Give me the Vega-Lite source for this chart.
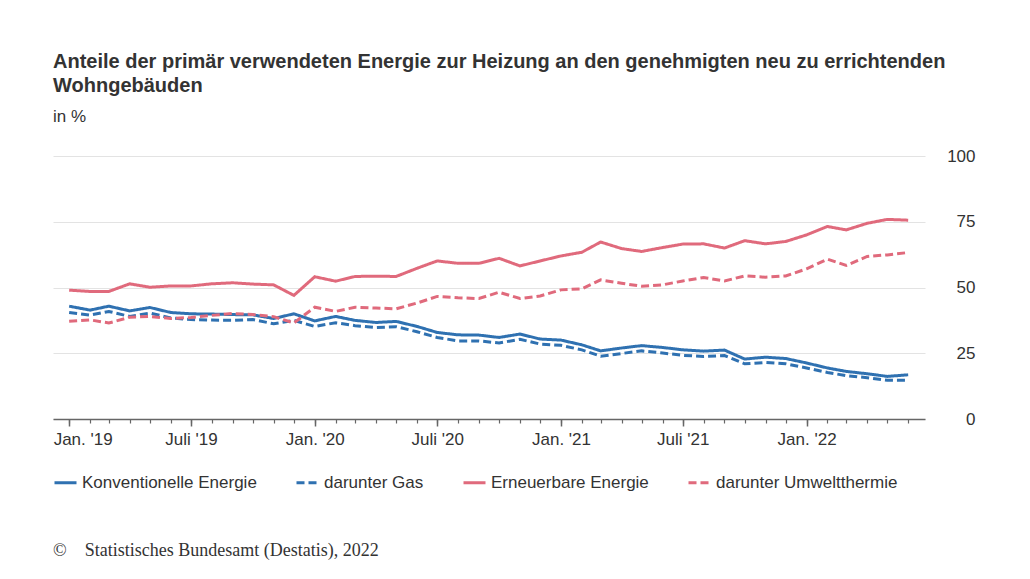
{
  "$schema": "https://vega.github.io/schema/vega-lite/v6.json",
  "width": 872,
  "height": 263,
  "padding": {"left": 53, "top": 52, "right": 10, "bottom": 10},
  "autosize": {"type": "pad"},
  "background": "white",
  "title": {
    "text": ["Anteile der primär verwendeten Energie zur Heizung an den genehmigten neu zu errichtenden", "Wohngebäuden"],
    "subtitle": "in %",
    "anchor": "start",
    "frame": "group",
    "font": "Liberation Sans",
    "fontSize": 20,
    "fontWeight": "bold",
    "color": "#333333",
    "lineHeight": 24,
    "subtitleFont": "Liberation Sans",
    "subtitleFontSize": 17,
    "subtitleColor": "#333333",
    "subtitlePadding": 13,
    "offset": 22
  },
  "data": {
    "values": [
      {"date": "2019-01-01", "series": "Konventionelle Energie", "value": 42.9},
      {"date": "2019-02-01", "series": "Konventionelle Energie", "value": 41.4},
      {"date": "2019-03-01", "series": "Konventionelle Energie", "value": 42.9},
      {"date": "2019-04-01", "series": "Konventionelle Energie", "value": 41.1},
      {"date": "2019-05-01", "series": "Konventionelle Energie", "value": 42.4},
      {"date": "2019-06-01", "series": "Konventionelle Energie", "value": 40.5},
      {"date": "2019-07-01", "series": "Konventionelle Energie", "value": 40.0},
      {"date": "2019-08-01", "series": "Konventionelle Energie", "value": 39.9},
      {"date": "2019-09-01", "series": "Konventionelle Energie", "value": 39.7},
      {"date": "2019-10-01", "series": "Konventionelle Energie", "value": 39.6},
      {"date": "2019-11-01", "series": "Konventionelle Energie", "value": 38.2},
      {"date": "2019-12-01", "series": "Konventionelle Energie", "value": 40.0},
      {"date": "2020-01-01", "series": "Konventionelle Energie", "value": 37.3},
      {"date": "2020-02-01", "series": "Konventionelle Energie", "value": 39.0},
      {"date": "2020-03-01", "series": "Konventionelle Energie", "value": 37.5},
      {"date": "2020-04-01", "series": "Konventionelle Energie", "value": 36.7},
      {"date": "2020-05-01", "series": "Konventionelle Energie", "value": 37.1},
      {"date": "2020-06-01", "series": "Konventionelle Energie", "value": 35.2},
      {"date": "2020-07-01", "series": "Konventionelle Energie", "value": 32.9},
      {"date": "2020-08-01", "series": "Konventionelle Energie", "value": 32.0},
      {"date": "2020-09-01", "series": "Konventionelle Energie", "value": 31.9},
      {"date": "2020-10-01", "series": "Konventionelle Energie", "value": 31.0},
      {"date": "2020-11-01", "series": "Konventionelle Energie", "value": 32.3},
      {"date": "2020-12-01", "series": "Konventionelle Energie", "value": 30.4},
      {"date": "2021-01-01", "series": "Konventionelle Energie", "value": 30.0},
      {"date": "2021-02-01", "series": "Konventionelle Energie", "value": 28.2},
      {"date": "2021-03-01", "series": "Konventionelle Energie", "value": 25.9},
      {"date": "2021-04-01", "series": "Konventionelle Energie", "value": 27.0},
      {"date": "2021-05-01", "series": "Konventionelle Energie", "value": 27.9},
      {"date": "2021-06-01", "series": "Konventionelle Energie", "value": 27.2},
      {"date": "2021-07-01", "series": "Konventionelle Energie", "value": 26.3},
      {"date": "2021-08-01", "series": "Konventionelle Energie", "value": 25.8},
      {"date": "2021-09-01", "series": "Konventionelle Energie", "value": 26.2},
      {"date": "2021-10-01", "series": "Konventionelle Energie", "value": 22.8},
      {"date": "2021-11-01", "series": "Konventionelle Energie", "value": 23.5},
      {"date": "2021-12-01", "series": "Konventionelle Energie", "value": 23.0},
      {"date": "2022-01-01", "series": "Konventionelle Energie", "value": 21.3},
      {"date": "2022-02-01", "series": "Konventionelle Energie", "value": 19.4},
      {"date": "2022-03-01", "series": "Konventionelle Energie", "value": 18.1},
      {"date": "2022-04-01", "series": "Konventionelle Energie", "value": 17.2},
      {"date": "2022-05-01", "series": "Konventionelle Energie", "value": 16.2},
      {"date": "2022-06-01", "series": "Konventionelle Energie", "value": 16.8},
      {"date": "2019-01-01", "series": "darunter Gas", "value": 40.5},
      {"date": "2019-02-01", "series": "darunter Gas", "value": 39.5},
      {"date": "2019-03-01", "series": "darunter Gas", "value": 40.9},
      {"date": "2019-04-01", "series": "darunter Gas", "value": 39.0},
      {"date": "2019-05-01", "series": "darunter Gas", "value": 40.3},
      {"date": "2019-06-01", "series": "darunter Gas", "value": 38.4},
      {"date": "2019-07-01", "series": "darunter Gas", "value": 37.8},
      {"date": "2019-08-01", "series": "darunter Gas", "value": 37.6},
      {"date": "2019-09-01", "series": "darunter Gas", "value": 37.5},
      {"date": "2019-10-01", "series": "darunter Gas", "value": 37.8},
      {"date": "2019-11-01", "series": "darunter Gas", "value": 36.2},
      {"date": "2019-12-01", "series": "darunter Gas", "value": 37.5},
      {"date": "2020-01-01", "series": "darunter Gas", "value": 35.2},
      {"date": "2020-02-01", "series": "darunter Gas", "value": 36.6},
      {"date": "2020-03-01", "series": "darunter Gas", "value": 35.5},
      {"date": "2020-04-01", "series": "darunter Gas", "value": 34.8},
      {"date": "2020-05-01", "series": "darunter Gas", "value": 35.1},
      {"date": "2020-06-01", "series": "darunter Gas", "value": 33.2},
      {"date": "2020-07-01", "series": "darunter Gas", "value": 31.0},
      {"date": "2020-08-01", "series": "darunter Gas", "value": 29.7},
      {"date": "2020-09-01", "series": "darunter Gas", "value": 29.7},
      {"date": "2020-10-01", "series": "darunter Gas", "value": 28.9},
      {"date": "2020-11-01", "series": "darunter Gas", "value": 30.3},
      {"date": "2020-12-01", "series": "darunter Gas", "value": 28.5},
      {"date": "2021-01-01", "series": "darunter Gas", "value": 28.0},
      {"date": "2021-02-01", "series": "darunter Gas", "value": 26.3},
      {"date": "2021-03-01", "series": "darunter Gas", "value": 23.9},
      {"date": "2021-04-01", "series": "darunter Gas", "value": 24.9},
      {"date": "2021-05-01", "series": "darunter Gas", "value": 25.9},
      {"date": "2021-06-01", "series": "darunter Gas", "value": 25.1},
      {"date": "2021-07-01", "series": "darunter Gas", "value": 24.2},
      {"date": "2021-08-01", "series": "darunter Gas", "value": 23.8},
      {"date": "2021-09-01", "series": "darunter Gas", "value": 24.1},
      {"date": "2021-10-01", "series": "darunter Gas", "value": 21.0},
      {"date": "2021-11-01", "series": "darunter Gas", "value": 21.5},
      {"date": "2021-12-01", "series": "darunter Gas", "value": 21.0},
      {"date": "2022-01-01", "series": "darunter Gas", "value": 19.4},
      {"date": "2022-02-01", "series": "darunter Gas", "value": 17.7},
      {"date": "2022-03-01", "series": "darunter Gas", "value": 16.5},
      {"date": "2022-04-01", "series": "darunter Gas", "value": 15.7},
      {"date": "2022-05-01", "series": "darunter Gas", "value": 14.7},
      {"date": "2022-06-01", "series": "darunter Gas", "value": 14.7},
      {"date": "2019-01-01", "series": "Erneuerbare Energie", "value": 49.0},
      {"date": "2019-02-01", "series": "Erneuerbare Energie", "value": 48.5},
      {"date": "2019-03-01", "series": "Erneuerbare Energie", "value": 48.5},
      {"date": "2019-04-01", "series": "Erneuerbare Energie", "value": 51.4},
      {"date": "2019-05-01", "series": "Erneuerbare Energie", "value": 50.1},
      {"date": "2019-06-01", "series": "Erneuerbare Energie", "value": 50.6},
      {"date": "2019-07-01", "series": "Erneuerbare Energie", "value": 50.6},
      {"date": "2019-08-01", "series": "Erneuerbare Energie", "value": 51.4},
      {"date": "2019-09-01", "series": "Erneuerbare Energie", "value": 51.8},
      {"date": "2019-10-01", "series": "Erneuerbare Energie", "value": 51.3},
      {"date": "2019-11-01", "series": "Erneuerbare Energie", "value": 51.0},
      {"date": "2019-12-01", "series": "Erneuerbare Energie", "value": 47.0},
      {"date": "2020-01-01", "series": "Erneuerbare Energie", "value": 54.1},
      {"date": "2020-02-01", "series": "Erneuerbare Energie", "value": 52.4},
      {"date": "2020-03-01", "series": "Erneuerbare Energie", "value": 54.2},
      {"date": "2020-04-01", "series": "Erneuerbare Energie", "value": 54.3},
      {"date": "2020-05-01", "series": "Erneuerbare Energie", "value": 54.2},
      {"date": "2020-06-01", "series": "Erneuerbare Energie", "value": 57.3},
      {"date": "2020-07-01", "series": "Erneuerbare Energie", "value": 60.1},
      {"date": "2020-08-01", "series": "Erneuerbare Energie", "value": 59.2},
      {"date": "2020-09-01", "series": "Erneuerbare Energie", "value": 59.2},
      {"date": "2020-10-01", "series": "Erneuerbare Energie", "value": 61.1},
      {"date": "2020-11-01", "series": "Erneuerbare Energie", "value": 58.2},
      {"date": "2020-12-01", "series": "Erneuerbare Energie", "value": 60.1},
      {"date": "2021-01-01", "series": "Erneuerbare Energie", "value": 62.0},
      {"date": "2021-02-01", "series": "Erneuerbare Energie", "value": 63.4},
      {"date": "2021-03-01", "series": "Erneuerbare Energie", "value": 67.3},
      {"date": "2021-04-01", "series": "Erneuerbare Energie", "value": 64.8},
      {"date": "2021-05-01", "series": "Erneuerbare Energie", "value": 63.7},
      {"date": "2021-06-01", "series": "Erneuerbare Energie", "value": 65.2},
      {"date": "2021-07-01", "series": "Erneuerbare Energie", "value": 66.5},
      {"date": "2021-08-01", "series": "Erneuerbare Energie", "value": 66.6},
      {"date": "2021-09-01", "series": "Erneuerbare Energie", "value": 65.0},
      {"date": "2021-10-01", "series": "Erneuerbare Energie", "value": 67.8},
      {"date": "2021-11-01", "series": "Erneuerbare Energie", "value": 66.6},
      {"date": "2021-12-01", "series": "Erneuerbare Energie", "value": 67.5},
      {"date": "2022-01-01", "series": "Erneuerbare Energie", "value": 70.0},
      {"date": "2022-02-01", "series": "Erneuerbare Energie", "value": 73.2},
      {"date": "2022-03-01", "series": "Erneuerbare Energie", "value": 71.9},
      {"date": "2022-04-01", "series": "Erneuerbare Energie", "value": 74.4},
      {"date": "2022-05-01", "series": "Erneuerbare Energie", "value": 75.9},
      {"date": "2022-06-01", "series": "Erneuerbare Energie", "value": 75.6},
      {"date": "2019-01-01", "series": "darunter Umweltthermie", "value": 37.2},
      {"date": "2019-02-01", "series": "darunter Umweltthermie", "value": 37.7},
      {"date": "2019-03-01", "series": "darunter Umweltthermie", "value": 36.5},
      {"date": "2019-04-01", "series": "darunter Umweltthermie", "value": 38.7},
      {"date": "2019-05-01", "series": "darunter Umweltthermie", "value": 39.0},
      {"date": "2019-06-01", "series": "darunter Umweltthermie", "value": 38.2},
      {"date": "2019-07-01", "series": "darunter Umweltthermie", "value": 38.6},
      {"date": "2019-08-01", "series": "darunter Umweltthermie", "value": 39.4},
      {"date": "2019-09-01", "series": "darunter Umweltthermie", "value": 40.1},
      {"date": "2019-10-01", "series": "darunter Umweltthermie", "value": 39.7},
      {"date": "2019-11-01", "series": "darunter Umweltthermie", "value": 38.9},
      {"date": "2019-12-01", "series": "darunter Umweltthermie", "value": 36.5},
      {"date": "2020-01-01", "series": "darunter Umweltthermie", "value": 42.5},
      {"date": "2020-02-01", "series": "darunter Umweltthermie", "value": 40.9},
      {"date": "2020-03-01", "series": "darunter Umweltthermie", "value": 42.5},
      {"date": "2020-04-01", "series": "darunter Umweltthermie", "value": 42.2},
      {"date": "2020-05-01", "series": "darunter Umweltthermie", "value": 41.9},
      {"date": "2020-06-01", "series": "darunter Umweltthermie", "value": 44.1},
      {"date": "2020-07-01", "series": "darunter Umweltthermie", "value": 46.6},
      {"date": "2020-08-01", "series": "darunter Umweltthermie", "value": 46.1},
      {"date": "2020-09-01", "series": "darunter Umweltthermie", "value": 45.8},
      {"date": "2020-10-01", "series": "darunter Umweltthermie", "value": 48.2},
      {"date": "2020-11-01", "series": "darunter Umweltthermie", "value": 45.8},
      {"date": "2020-12-01", "series": "darunter Umweltthermie", "value": 46.8},
      {"date": "2021-01-01", "series": "darunter Umweltthermie", "value": 49.1},
      {"date": "2021-02-01", "series": "darunter Umweltthermie", "value": 49.5},
      {"date": "2021-03-01", "series": "darunter Umweltthermie", "value": 52.9},
      {"date": "2021-04-01", "series": "darunter Umweltthermie", "value": 51.6},
      {"date": "2021-05-01", "series": "darunter Umweltthermie", "value": 50.5},
      {"date": "2021-06-01", "series": "darunter Umweltthermie", "value": 51.0},
      {"date": "2021-07-01", "series": "darunter Umweltthermie", "value": 52.5},
      {"date": "2021-08-01", "series": "darunter Umweltthermie", "value": 53.8},
      {"date": "2021-09-01", "series": "darunter Umweltthermie", "value": 52.5},
      {"date": "2021-10-01", "series": "darunter Umweltthermie", "value": 54.4},
      {"date": "2021-11-01", "series": "darunter Umweltthermie", "value": 53.9},
      {"date": "2021-12-01", "series": "darunter Umweltthermie", "value": 54.4},
      {"date": "2022-01-01", "series": "darunter Umweltthermie", "value": 57.1},
      {"date": "2022-02-01", "series": "darunter Umweltthermie", "value": 60.8},
      {"date": "2022-03-01", "series": "darunter Umweltthermie", "value": 58.4},
      {"date": "2022-04-01", "series": "darunter Umweltthermie", "value": 61.8},
      {"date": "2022-05-01", "series": "darunter Umweltthermie", "value": 62.4},
      {"date": "2022-06-01", "series": "darunter Umweltthermie", "value": 63.3}
    ]
  },
  "layer": [
    {
      "mark": {"type": "line", "strokeWidth": 3},
      "encoding": {
        "x": {
          "field": "date",
          "type": "temporal",
          "scale": {"type": "utc", "domain": [{"year": 2018, "month": 12, "date": 8, "utc": true}, {"year": 2022, "month": 6, "date": 26, "utc": true}]},
          "axis": {"orient": "bottom", "tickCount": {"interval": "month", "step": 1}, "labels": false, "grid": false, "domain": true, "domainColor": "#666666", "domainWidth": 1.5, "tickColor": "#666666", "tickWidth": 1.2, "tickSize": 4, "title": null}
        },
        "y": {
          "field": "value",
          "type": "quantitative",
          "scale": {"domain": [0, 100]},
          "axis": {"orient": "right", "values": [0, 25, 50, 75, 100], "grid": true, "gridColor": "#e3e3e3", "gridWidth": 1, "domain": false, "ticks": false, "tickSize": 0, "labelAlign": "right", "labelBaseline": "middle", "labelPadding": 50, "labelFont": "Liberation Sans", "labelFontSize": 17, "labelColor": "#333333", "title": null}
        },
        "color": {
          "field": "series",
          "type": "nominal",
          "scale": {"domain": ["Konventionelle Energie", "darunter Gas", "Erneuerbare Energie", "darunter Umweltthermie"], "range": ["#2f71b1", "#2f71b1", "#e06a7c", "#e06a7c"]},
          "legend": {"orient": "bottom", "direction": "horizontal", "columns": 4, "title": "©\u2003Statistisches Bundesamt (Destatis), 2022", "titleOrient": "bottom", "titleAnchor": "start", "titleFont": "Liberation Serif", "titleFontSize": 18, "titleFontWeight": "normal", "titleColor": "#333333", "titlePadding": 51, "titleLimit": 600, "symbolType": "stroke", "symbolSize": 484, "symbolStrokeWidth": 3, "labelFont": "Liberation Sans", "labelFontSize": 17, "labelColor": "#333333", "labelLimit": 400, "labelOffset": 4, "columnPadding": 33, "offset": 23}
        },
        "strokeDash": {
          "field": "series",
          "type": "nominal",
          "scale": {"domain": ["Konventionelle Energie", "darunter Gas", "Erneuerbare Energie", "darunter Umweltthermie"], "range": [[1, 0], [8, 4], [1, 0], [8, 4]]},
          "legend": {"orient": "bottom", "direction": "horizontal", "columns": 4, "title": "©\u2003Statistisches Bundesamt (Destatis), 2022", "titleOrient": "bottom", "titleAnchor": "start", "titleFont": "Liberation Serif", "titleFontSize": 18, "titleFontWeight": "normal", "titleColor": "#333333", "titlePadding": 51, "titleLimit": 600, "symbolType": "stroke", "symbolSize": 484, "symbolStrokeWidth": 3, "labelFont": "Liberation Sans", "labelFontSize": 17, "labelColor": "#333333", "labelLimit": 400, "labelOffset": 4, "columnPadding": 33, "offset": 23}
        }
      }
    },
    {
      "mark": {"type": "line", "opacity": 0},
      "encoding": {
        "x": {
          "field": "date",
          "type": "temporal",
          "axis": {
            "orient": "bottom",
            "values": [
              {"year": 2019, "month": 1, "date": 1, "utc": true},
              {"year": 2019, "month": 7, "date": 1, "utc": true},
              {"year": 2020, "month": 1, "date": 1, "utc": true},
              {"year": 2020, "month": 7, "date": 1, "utc": true},
              {"year": 2021, "month": 1, "date": 1, "utc": true},
              {"year": 2021, "month": 7, "date": 1, "utc": true},
              {"year": 2022, "month": 1, "date": 1, "utc": true}
            ],
            "labelExpr": "(utcmonth(datum.value) == 0 ? \"Jan. '\" : \"Juli '\") + utcFormat(datum.value, '%y')",
            "labelFlush": 20,
            "labelFlushOffset": 16,
            "labelOverlap": false,
            "tickSize": 7,
            "tickColor": "#666666",
            "tickWidth": 1.5,
            "domain": false,
            "grid": false,
            "labelFont": "Liberation Sans",
            "labelFontSize": 17,
            "labelColor": "#333333",
            "labelPadding": 5,
            "title": null
          }
        },
        "y": {
          "field": "value",
          "type": "quantitative",
          "axis": {"orient": "right", "values": [0, 25, 50, 75, 100], "grid": true, "gridColor": "#e3e3e3", "gridWidth": 1, "domain": false, "ticks": false, "tickSize": 0, "labelAlign": "right", "labelBaseline": "middle", "labelPadding": 50, "labelFont": "Liberation Sans", "labelFontSize": 17, "labelColor": "#333333", "title": null}
        },
        "detail": {"field": "series", "type": "nominal"}
      }
    }
  ],
  "resolve": {"axis": {"x": "independent"}},
  "config": {"view": {"stroke": null}, "font": "Liberation Sans"}
}
